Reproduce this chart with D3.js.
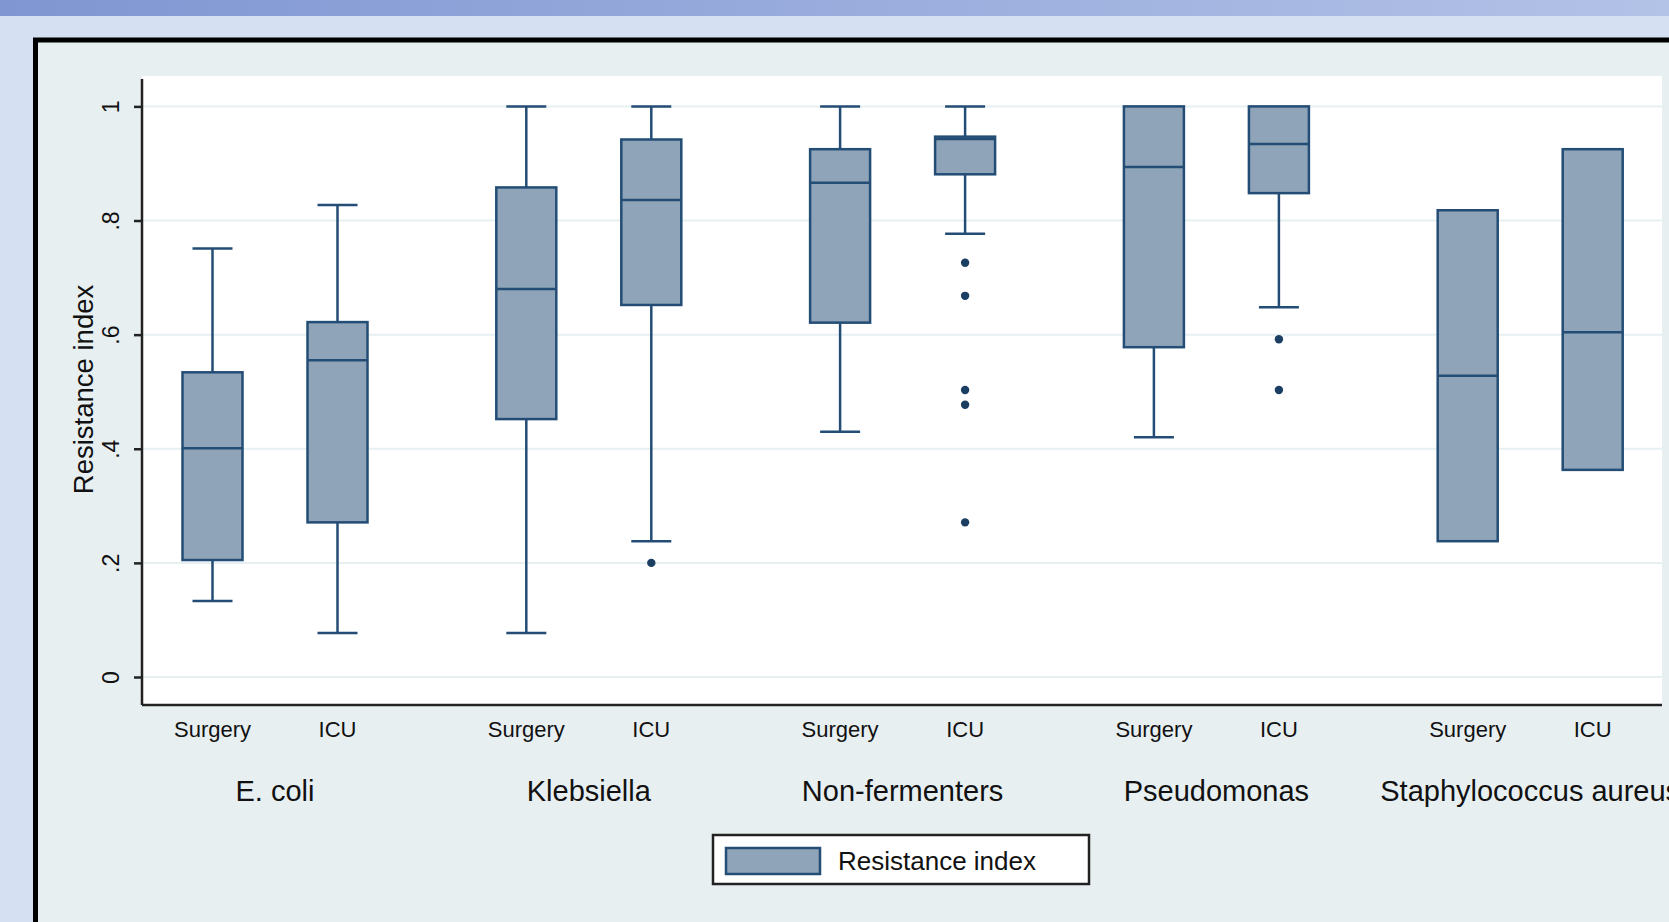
<!DOCTYPE html>
<html>
<head>
<meta charset="utf-8">
<script src="https://cdn.jsdelivr.net/npm/d3@7"></script>
<style>
  html, body { margin: 0; padding: 0; background: #d5e0f2; overflow: hidden; }
  svg { display: block; }
  text { font-family: "Liberation Sans", Arial, sans-serif; fill: #111; }
</style>
</head>
<body>
<svg id="chart" width="1669" height="922"></svg>
<script>
// ---------------- data ----------------
const groups = ["E. coli", "Klebsiella", "Non-fermenters", "Pseudomonas", "Staphylococcus aureus"];
const settings = ["Surgery", "ICU"];
// one entry per box, ordered group by group, Surgery then ICU
const whiskerLow  = [0.133, 0.077, 0.077, 0.238, 0.430, 0.777, 0.420, 0.648, 0.238, 0.363];
const q1          = [0.205, 0.271, 0.452, 0.652, 0.621, 0.881, 0.578, 0.848, 0.238, 0.363];
const median      = [0.401, 0.555, 0.680, 0.836, 0.866, 0.943, 0.894, 0.934, 0.528, 0.604];
const q3          = [0.534, 0.622, 0.858, 0.942, 0.925, 0.947, 1.000, 1.000, 0.818, 0.925];
const whiskerHigh = [0.751, 0.827, 1.000, 1.000, 1.000, 1.000, 1.000, 1.000, 0.818, 0.925];
// outliers: [box index, value]
const outlierBox   = [3, 5, 5, 5, 5, 5, 7, 7];
const outlierValue = [0.200, 0.726, 0.668, 0.503, 0.477, 0.271, 0.592, 0.503];
const yTickValues = [0, 0.2, 0.4, 0.6, 0.8, 1];
const yTickLabels = ["0", ".2", ".4", ".6", ".8", "1"];
const yTitle = "Resistance index";
const legendLabel = "Resistance index";

const boxes = whiskerLow.map((_, i) => ({
  group: groups[Math.floor(i / 2)],
  setting: settings[i % 2],
  lo: whiskerLow[i], q1: q1[i], med: median[i], q3: q3[i], hi: whiskerHigh[i]
}));
const outliers = outlierBox.map((b, i) => ({ box: boxes[b], v: outlierValue[i] }));

// ---------------- styles ----------------
const boxFill = "#8fa4b8";
const boxStroke = "#234d75";
const dotFill = "#1b3f63";
const gridColor = "#e6eff2";

const svg = d3.select("#chart");

// top gradient strip
const defs = svg.append("defs");
const grad = defs.append("linearGradient").attr("id", "topbar").attr("x1", "0").attr("x2", "1");
grad.append("stop").attr("offset", "0").attr("stop-color", "#7f96d2");
grad.append("stop").attr("offset", "1").attr("stop-color", "#b3c2e7");
svg.append("rect").attr("x", 0).attr("y", 0).attr("width", 1669).attr("height", 16).attr("fill", "url(#topbar)");

// graph frame
svg.append("rect").attr("x", 35.5).attr("y", 40).attr("width", 1700).attr("height", 1000)
  .attr("fill", "#e8eff1").attr("stroke", "#000").attr("stroke-width", 5);

// plot region
const plot = { left: 142, right: 1662, top: 76, bottom: 705 };
svg.append("rect").attr("x", plot.left).attr("y", plot.top)
  .attr("width", plot.right - plot.left).attr("height", plot.bottom - plot.top).attr("fill", "#fff");

// scales
const y = d3.scaleLinear().domain([0, 1]).range([677, 106.4]);
const xGroup = d3.scaleBand().domain(groups).range([118.1, 1687.1]).padding(0);
const half = 62.5;
const xSet = d3.scalePoint().domain(settings).range([xGroup.bandwidth() / 2 - half, xGroup.bandwidth() / 2 + half]);
const bx = d => xGroup(d.group) + xSet(d.setting);
const boxW = 60, capW = 40;

// gridlines
svg.append("g").selectAll("line").data(yTickValues).join("line")
  .attr("x1", plot.left).attr("x2", plot.right)
  .attr("y1", d => y(d)).attr("y2", d => y(d))
  .attr("stroke", gridColor).attr("stroke-width", 2);

// y axis
const yAxis = d3.axisLeft(y).tickValues(yTickValues).tickFormat((d, i) => yTickLabels[i]).tickSize(8).tickPadding(0);
const gy = svg.append("g").attr("transform", `translate(${plot.left},0)`).call(yAxis);
gy.select(".domain").remove();
gy.selectAll(".tick line").attr("stroke", "#222").attr("stroke-width", 2.5);
gy.selectAll(".tick text")
  .attr("font-size", 23).attr("fill", "#111")
  .attr("text-anchor", "middle")
  .attr("x", 0).attr("dy", 0)
  .attr("transform", "translate(-23,0) rotate(-90)");
svg.append("line").attr("x1", plot.left).attr("x2", plot.left).attr("y1", plot.top + 3).attr("y2", plot.bottom)
  .attr("stroke", "#222").attr("stroke-width", 2.5);

// x axis line
svg.append("line").attr("x1", plot.left).attr("x2", plot.right).attr("y1", plot.bottom).attr("y2", plot.bottom)
  .attr("stroke", "#222").attr("stroke-width", 2.5);

// y title
svg.append("text").attr("transform", `translate(93,${(plot.top + plot.bottom) / 2 - 1}) rotate(-90)`)
  .attr("text-anchor", "middle").attr("font-size", 27.5).text(yTitle);

// whiskers
const gw = svg.append("g").attr("stroke", boxStroke).attr("stroke-width", 2.5);
boxes.forEach(d => {
  const cx = bx(d);
  if (d.hi > d.q3) {
    gw.append("line").attr("x1", cx).attr("x2", cx).attr("y1", y(d.q3)).attr("y2", y(d.hi));
    gw.append("line").attr("x1", cx - capW / 2).attr("x2", cx + capW / 2).attr("y1", y(d.hi)).attr("y2", y(d.hi));
  }
  if (d.lo < d.q1) {
    gw.append("line").attr("x1", cx).attr("x2", cx).attr("y1", y(d.q1)).attr("y2", y(d.lo));
    gw.append("line").attr("x1", cx - capW / 2).attr("x2", cx + capW / 2).attr("y1", y(d.lo)).attr("y2", y(d.lo));
  }
});

// boxes
svg.append("g").selectAll("rect").data(boxes).join("rect")
  .attr("x", d => bx(d) - boxW / 2).attr("width", boxW)
  .attr("y", d => y(d.q3)).attr("height", d => y(d.q1) - y(d.q3))
  .attr("fill", boxFill).attr("stroke", boxStroke).attr("stroke-width", 2.5);

// medians
svg.append("g").selectAll("line").data(boxes).join("line")
  .attr("x1", d => bx(d) - boxW / 2).attr("x2", d => bx(d) + boxW / 2)
  .attr("y1", d => y(d.med)).attr("y2", d => y(d.med))
  .attr("stroke", boxStroke).attr("stroke-width", 2.5);

// outliers
svg.append("g").selectAll("circle").data(outliers).join("circle")
  .attr("cx", d => bx(d.box)).attr("cy", d => y(d.v)).attr("r", 4.2).attr("fill", dotFill);

// setting labels
svg.append("g").selectAll("text").data(boxes).join("text")
  .attr("x", d => bx(d)).attr("y", 737).attr("text-anchor", "middle").attr("font-size", 22)
  .text(d => d.setting);

// group labels (the last one runs past the right edge, as in the reference)
svg.append("g").selectAll("text").data(groups).join("text")
  .attr("x", d => xGroup(d) + xGroup.bandwidth() / 2).attr("y", 801).attr("text-anchor", "middle").attr("font-size", 29)
  .text(d => d);

// legend
const lg = svg.append("g");
lg.append("rect").attr("x", 713).attr("y", 835).attr("width", 376).attr("height", 49)
  .attr("fill", "#fff").attr("stroke", "#222").attr("stroke-width", 2.5);
lg.append("rect").attr("x", 726).attr("y", 848).attr("width", 94).attr("height", 26)
  .attr("fill", boxFill).attr("stroke", boxStroke).attr("stroke-width", 2.5);
lg.append("text").attr("x", 838).attr("y", 870).attr("font-size", 26).text(legendLabel);
</script>
</body>
</html>
